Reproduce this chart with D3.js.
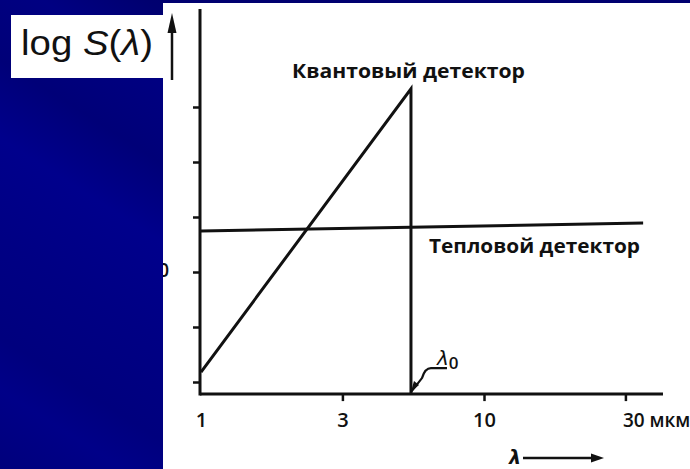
<!DOCTYPE html>
<html><head><meta charset="utf-8">
<script src="https://cdn.jsdelivr.net/npm/d3@7"></script>
<style>body{margin:0;background:#fff}svg{display:block}</style>
</head><body>
<svg id="c" width="690" height="469"></svg>
<script>
// ---- data ----
const xTickValues = [1, 3.16, 10, 31.6];
const xTickLabels = ["1", "3", "10", "30 мкм"];
const yTickValues = [1, 2, 3, 4, 5, 6];
const quantum = [[1, 1.18], [5.52, 6.33], [5.52, 0.78]];
const thermal = [[1, 3.745], [36.5, 3.89]];
const lambda0 = 5.52;
const quantumLabel = "Квантовый детектор";
const thermalLabel = "Тепловой детектор";
const xDomainMax = 42.9;
const yAxisMin = 0.78, yAxisMax = 7.78;

const svg = d3.select("#c");
const ink = "#111";
const font = "'Open Sans', 'DejaVu Sans', sans-serif";

const x = d3.scaleLog().domain([1, 10]).range([201, 484]);
const y = d3.scaleLinear().domain([1, 6]).range([382, 107]);

svg.append("rect").attr("width", 690).attr("height", 469).attr("fill", "#fff");

// hidden (partly covered) y tick label
svg.append("text").attr("x", 169).attr("y", 277).attr("text-anchor", "end")
  .attr("font-family", font).attr("font-weight", 600).attr("font-size", 19).attr("fill", ink).text("10");

// axes lines
const gAx = svg.append("g").attr("stroke", ink).attr("stroke-width", 3).attr("fill", "none");
gAx.append("line").attr("x1", 200).attr("x2", 200).attr("y1", y(yAxisMin) + 1.5).attr("y2", y(yAxisMax));
gAx.append("line").attr("x1", 200).attr("x2", x(xDomainMax)).attr("y1", y(yAxisMin)).attr("y2", y(yAxisMin));

// x axis ticks
const xAxis = d3.axisBottom(x).tickValues(xTickValues).tickSize(7).tickSizeOuter(0)
  .tickFormat((d, i) => xTickLabels[i]);
const gx = svg.append("g").attr("transform", `translate(0,${y(yAxisMin)})`).call(xAxis);
gx.select(".domain").remove();
gx.selectAll(".tick line").attr("stroke", ink).attr("stroke-width", 2.5);
gx.selectAll(".tick").filter((d, i) => i === 0).select("line").remove();
gx.selectAll(".tick text").attr("font-family", font).attr("font-weight", 600).attr("font-size", 20)
  .attr("fill", ink).attr("dy", 0).attr("y", 33);
gx.selectAll(".tick text").filter((d, i) => i === xTickValues.length - 1)
  .attr("text-anchor", "start").attr("x", -3).attr("font-size", 19);

// y axis ticks (left)
const yAxis = d3.axisLeft(y).tickValues(yTickValues).tickSize(7).tickFormat("");
const gy = svg.append("g").attr("transform", "translate(200,0)").call(yAxis);
gy.select(".domain").remove();
gy.selectAll(".tick line").attr("stroke", ink).attr("stroke-width", 2.5);

// series
const line = d3.line().x(d => x(d[0])).y(d => y(d[1]));
svg.append("path").datum(thermal).attr("d", line).attr("fill", "none")
  .attr("stroke", ink).attr("stroke-width", 3);
svg.append("path").datum(quantum).attr("d", line).attr("fill", "none")
  .attr("stroke", ink).attr("stroke-width", 3).attr("stroke-linejoin", "miter");

// labels
svg.append("text").attr("x", 292).attr("y", 78).attr("font-family", font).attr("font-weight", 700)
  .attr("font-size", 19).attr("fill", ink).attr("textLength", 233).attr("lengthAdjust", "spacingAndGlyphs")
  .text(quantumLabel);
svg.append("text").attr("x", 429).attr("y", 253).attr("font-family", font).attr("font-weight", 700)
  .attr("font-size", 19).attr("fill", ink).attr("textLength", 211).attr("lengthAdjust", "spacingAndGlyphs")
  .text(thermalLabel);

// lambda0 marker
const lx = x(lambda0), ly = y(yAxisMin) - 2;
svg.append("path").attr("d", `M${lx},${ly} L${lx + 11},${ly - 14} Q${lx + 14},${ly - 24} ${lx + 20},${ly - 24} L${lx + 36},${ly - 24}`)
  .attr("fill", "none").attr("stroke", ink).attr("stroke-width", 2.2);
svg.append("path").attr("d", `M${lx},${ly} L${lx + 3},${ly - 11} L${lx + 8},${ly - 7} Z`).attr("fill", ink);
const l0 = svg.append("text").attr("x", lx + 26).attr("y", ly - 27).attr("font-family", "'DejaVu Sans', sans-serif")
  .attr("font-size", 20).attr("fill", ink);
l0.append("tspan").attr("font-style", "italic").text("λ");
l0.append("tspan").attr("font-family", font).attr("font-weight", 600).attr("font-size", 17).attr("dy", 4).text("0");

// lambda axis label with arrow
svg.append("text").attr("x", 509).attr("y", 464).attr("font-family", "'DejaVu Sans', sans-serif")
  .attr("font-style", "italic").attr("font-weight", "bold").attr("font-size", 19).attr("fill", ink).text("λ");
svg.append("line").attr("x1", 523).attr("x2", 594).attr("y1", 458).attr("y2", 458)
  .attr("stroke", ink).attr("stroke-width", 2.5);
svg.append("path").attr("d", "M604,458 L591,453.5 L591,462.5 Z").attr("fill", ink);

// blue template panel
const defs = svg.append("defs");
const grad = defs.append("linearGradient").attr("id", "bg").attr("gradientUnits", "userSpaceOnUse")
  .attr("x1", 0).attr("y1", 469).attr("x2", 300).attr("y2", 0);
[[0, "#00007c"], [0.12, "#000088"], [0.2, "#00007e"], [0.35, "#000084"], [0.5, "#00008c"],
 [0.62, "#000078"], [0.75, "#000082"], [0.85, "#000070"], [1, "#000068"]]
  .forEach(([o, c]) => grad.append("stop").attr("offset", o).attr("stop-color", c));
svg.append("rect").attr("x", 0).attr("y", 0).attr("width", 163).attr("height", 469).attr("fill", "url(#bg)");
svg.append("rect").attr("x", 163).attr("y", 0).attr("width", 527).attr("height", 3).attr("fill", "#000070");

// y label box
svg.append("rect").attr("x", 11).attr("y", 15).attr("width", 153).attr("height", 63).attr("fill", "#fff");
const yl = svg.append("text").attr("x", 21).attr("y", 55).attr("font-family", "'Liberation Sans', Arial, sans-serif")
  .attr("font-size", 35).attr("fill", ink).attr("textLength", 132).attr("lengthAdjust", "spacingAndGlyphs");
yl.append("tspan").text("log ");
yl.append("tspan").attr("font-style", "italic").text("S");
yl.append("tspan").text("(");
yl.append("tspan").attr("font-style", "italic").text("λ");
yl.append("tspan").text(")");

// y arrow
svg.append("line").attr("x1", 172).attr("x2", 172).attr("y1", 80).attr("y2", 28)
  .attr("stroke", ink).attr("stroke-width", 2.5);
svg.append("path").attr("d", "M172,13 L167.5,33 L176.5,33 Z").attr("fill", ink);
</script>
</body></html>
